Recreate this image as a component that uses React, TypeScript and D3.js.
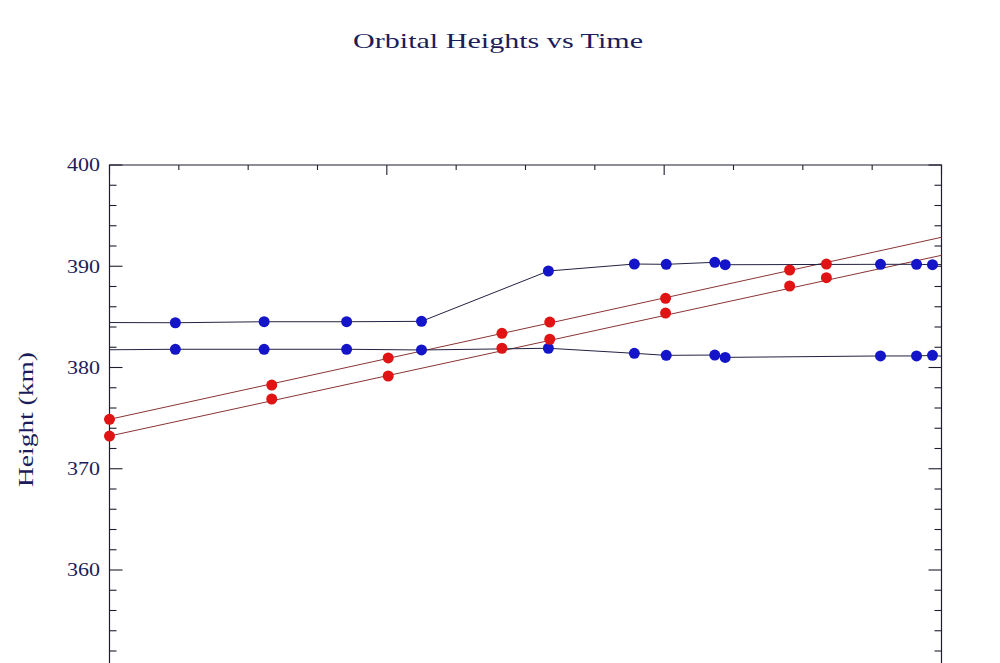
import React from "react";
import * as d3 from "d3";

// ---- data (time in plot units, heights in km) ----
const xDomain = [0, 12];
const yDomain = [350, 400];
const yTickLabels = [360, 370, 380, 390, 400];

const blueObsT = [0.95, 2.23, 3.42, 4.5, 6.33, 7.57, 8.03, 8.73, 8.88, 11.12, 11.64, 11.87];
const blueUpperH = [384.42, 384.52, 384.52, 384.56, 389.53, 390.22, 390.19, 390.39, 390.15, 390.19, 390.19, 390.15];
const blueLowerH = [381.8, 381.8, 381.8, 381.73, 381.9, 381.4, 381.2, 381.23, 381.0, 381.14, 381.14, 381.2];
const blueUpperEdge = [384.44, 390.17];
const blueLowerEdge = [381.75, 381.12];

const redObsT = [0, 2.34, 4.02, 5.66, 6.35, 8.02, 9.81, 10.34];
const redUpperH = [374.88, 378.27, 380.94, 383.38, 384.49, 386.83, 389.63, 390.22];
const redLowerH = [373.23, 376.89, 379.16, 381.9, 382.79, 385.38, 388.05, 388.87];
const redUpperFit = [374.88, 392.86];
const redLowerFit = [373.23, 391.08];

const W = 1000;
const H = 663;
const L = 109.5;
const R = 941.5;
const T = 165;
const B = 671.25;

export default function App() {
  const x = d3.scaleLinear().domain(xDomain).range([L, R]);
  const y = d3.scaleLinear().domain(yDomain).range([B, T]);
  const line = d3
    .line<[number, number]>()
    .x((d) => x(d[0]))
    .y((d) => y(d[1]));

  const withEdges = (t: number[], h: number[], edge: number[]) =>
    [[xDomain[0], edge[0]] as [number, number]]
      .concat(t.map((v, i) => [v, h[i]] as [number, number]))
      .concat([[xDomain[1], edge[1]] as [number, number]]);

  const blueUpperLine = withEdges(blueObsT, blueUpperH, blueUpperEdge);
  const blueLowerLine = withEdges(blueObsT, blueLowerH, blueLowerEdge);
  const redUpperLine: [number, number][] = [
    [xDomain[0], redUpperFit[0]],
    [xDomain[1], redUpperFit[1]],
  ];
  const redLowerLine: [number, number][] = [
    [xDomain[0], redLowerFit[0]],
    [xDomain[1], redLowerFit[1]],
  ];

  const yMinor = d3.range(yDomain[0], yDomain[1] + 0.001, 2);
  const xMinor = d3.range(xDomain[0], xDomain[1] + 0.001, 1);

  const axisColor = "#1e1e2e";
  const textColor = "#1c1c5a";
  const font = "'Liberation Serif', 'DejaVu Serif', serif";
  const blue = "#1414c8";
  const red = "#e01414";

  return (
    <div style={{ position: "fixed", left: 0, top: 0, width: W, height: H, background: "#fff" }}>
      <svg width={W} height={H} style={{ display: "block" }}>
        <rect x={0} y={0} width={W} height={H} fill="#fff" />
        <text
          x={353}
          y={48}
          textLength={290}
          lengthAdjust="spacingAndGlyphs"
          fontFamily={font}
          fontSize={22}
          fill={textColor}
        >
          Orbital Heights vs Time
        </text>

        {/* y axis label */}
        <text
          transform={`translate(33, 487) rotate(-90)`}
          textLength={135}
          lengthAdjust="spacingAndGlyphs"
          fontFamily={font}
          fontSize={21}
          fill={textColor}
        >
          Height (km)
        </text>

        {/* frame: top, left, right */}
        <path
          d={`M${L},${B}V${T}H${R}V${B}`}
          fill="none"
          stroke={axisColor}
          strokeWidth={1.2}
        />

        {/* y ticks */}
        {yMinor.map((v) => {
          const major = v % 10 === 0;
          const len = major ? 13 : 7;
          return (
            <g key={"y" + v}>
              <line x1={L} x2={L + len} y1={y(v)} y2={y(v)} stroke={axisColor} strokeWidth={1.1} />
              <line x1={R} x2={R - len} y1={y(v)} y2={y(v)} stroke={axisColor} strokeWidth={1.1} />
            </g>
          );
        })}
        {yTickLabels.map((v) => (
          <text
            key={"yl" + v}
            x={67}
            y={y(v)}
            dy="0.36em"
            textLength={33}
            lengthAdjust="spacingAndGlyphs"
            fontFamily={font}
            fontSize={18}
            fill={textColor}
          >
            {v}
          </text>
        ))}

        {/* top x ticks */}
        {xMinor.map((v) => {
          const major = v % 4 === 0;
          const len = major ? 10 : 5;
          return (
            <line key={"x" + v} x1={x(v)} x2={x(v)} y1={T} y2={T + len} stroke={axisColor} strokeWidth={1.1} />
          );
        })}

        {/* lines */}
        <path d={line(redUpperLine) || ""} fill="none" stroke="#8a3434" strokeWidth={1} />
        <path d={line(redLowerLine) || ""} fill="none" stroke="#8a3434" strokeWidth={1} />
        <path d={line(blueUpperLine) || ""} fill="none" stroke="#222244" strokeWidth={1} />
        <path d={line(blueLowerLine) || ""} fill="none" stroke="#222244" strokeWidth={1} />

        {/* dots */}
        {blueObsT.map((t, i) => (
          <circle key={"bu" + i} cx={x(t)} cy={y(blueUpperH[i])} r={5.5} fill={blue} />
        ))}
        {blueObsT.map((t, i) => (
          <circle key={"bl" + i} cx={x(t)} cy={y(blueLowerH[i])} r={5.5} fill={blue} />
        ))}
        {redObsT.map((t, i) => (
          <circle key={"ru" + i} cx={x(t)} cy={y(redUpperH[i])} r={5.5} fill={red} />
        ))}
        {redObsT.map((t, i) => (
          <circle key={"rl" + i} cx={x(t)} cy={y(redLowerH[i])} r={5.5} fill={red} />
        ))}
      </svg>
    </div>
  );
}
